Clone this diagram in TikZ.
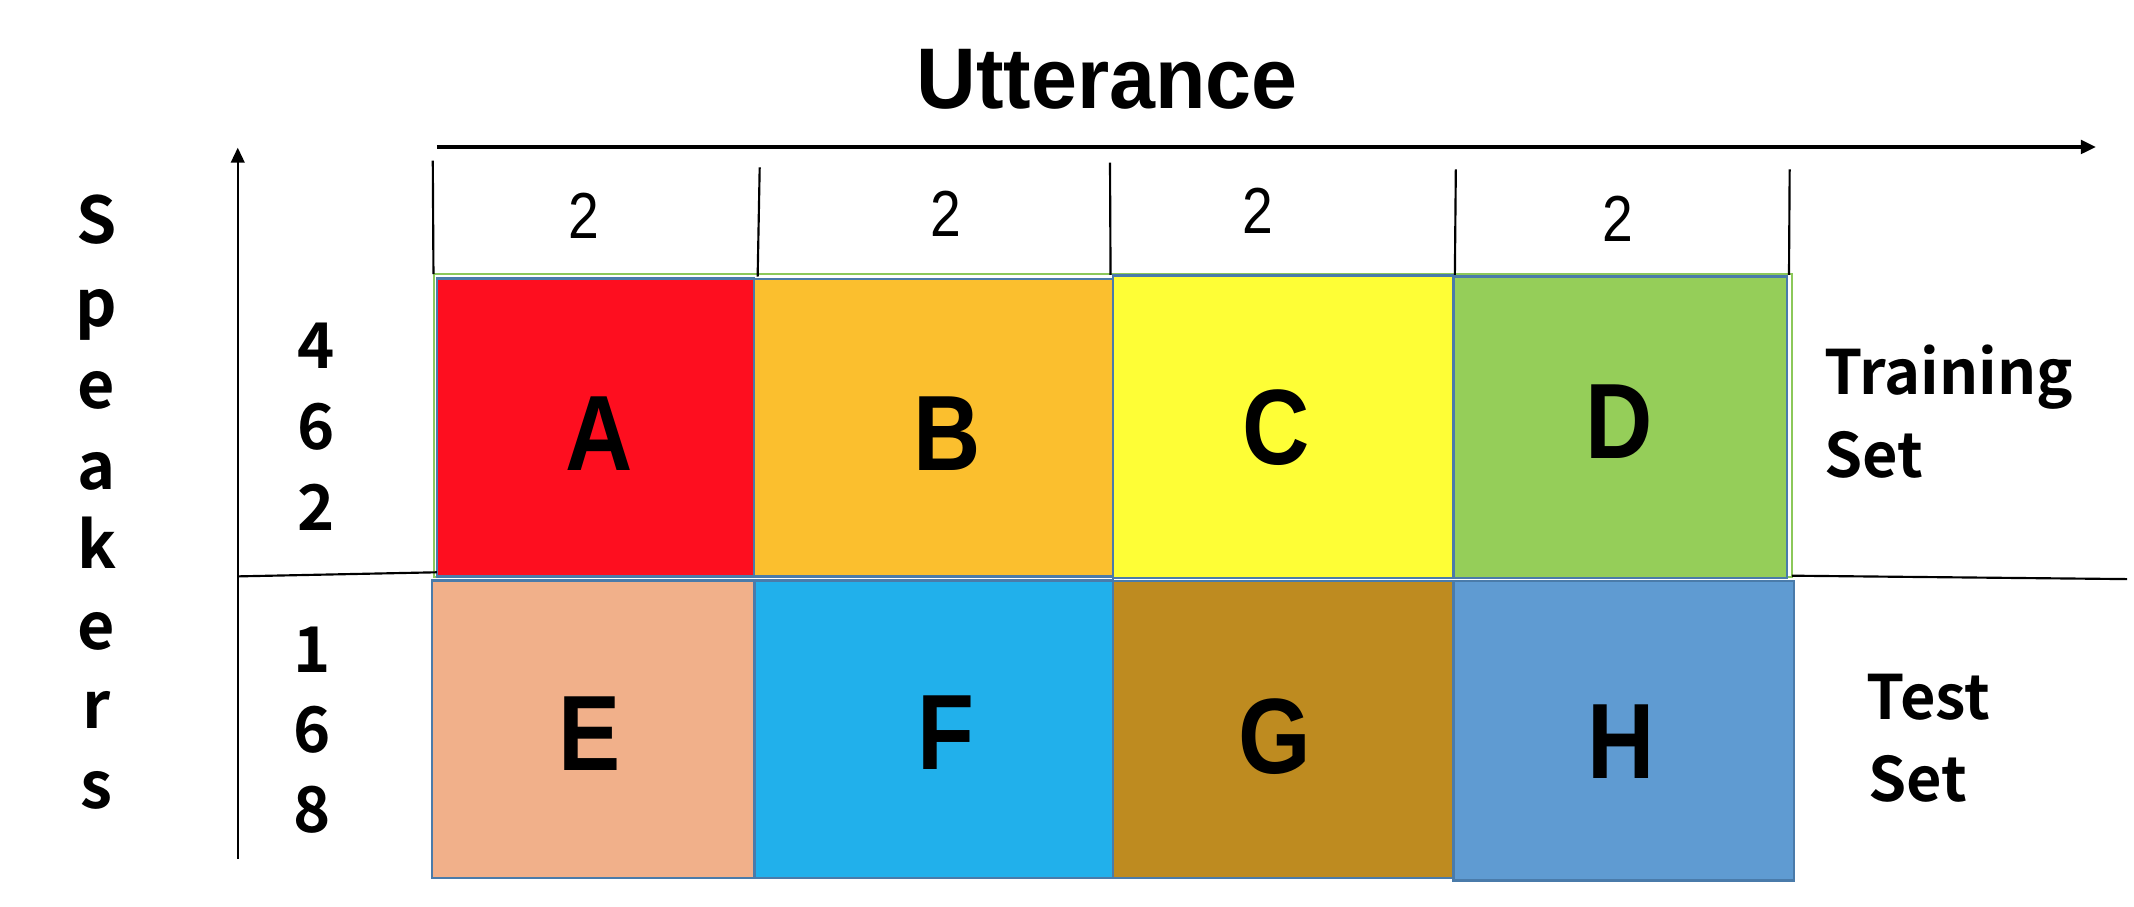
\documentclass[tikz,border=0pt]{standalone}
\usepackage{fontspec}
\setmainfont{Liberation Sans}
\newfontfamily\cjkf{Noto Sans CJK SC}[BoldFont={Noto Sans CJK SC Bold}]
\usetikzlibrary{arrows.meta}
\definecolor{cellborder}{HTML}{4A7BAA}
\definecolor{rowgreen}{HTML}{8CC85A}
\definecolor{cA}{HTML}{FE0E1F}
\definecolor{cB}{HTML}{FBBF2E}
\definecolor{cC}{HTML}{FEFE36}
\definecolor{cD}{HTML}{95CE59}
\definecolor{cE}{HTML}{F1B08A}
\definecolor{cF}{HTML}{21B0EB}
\definecolor{cG}{HTML}{BE8B20}
\definecolor{cH}{HTML}{5F9BD2}
\newcommand\cellletter[1]{\scalebox{0.87}[1]{#1}}
\tikzset{
  cell/.style={draw=cellborder, line width=0.5pt},
  axisline/.style={line width=0.45pt, black},
  xaxisline/.style={line width=0.65pt, black},
  tick/.style={line width=0.45pt, black},
  tip/.style={-{Triangle[length=1.1mm,width=1mm]}},
  letter/.style={font=\bfseries\fontsize{22.4}{26}\selectfont, inner sep=0pt},
  digit/.style={font=\cjkf\bfseries\fontsize{13.2}{16}\selectfont, inner sep=0pt, anchor=base},
  spk/.style={font=\cjkf\bfseries\fontsize{13.5}{16}\selectfont, inner sep=0pt, anchor=base},
  setlabel/.style={font=\cjkf\bfseries\fontsize{12.8}{15}\selectfont, inner sep=0pt, anchor=base west},
  two/.style={font=\fontsize{13.6}{16}\selectfont, inner sep=0pt, anchor=base},
  title/.style={font=\bfseries\fontsize{18}{22}\selectfont, inner sep=0pt, anchor=base}
}
\begin{document}
\begin{tikzpicture}[x=0.1mm,y=-0.1mm]
\useasboundingbox (0,0) rectangle (1568,666);
% title
\node[title] (utt) at (813.5,80) {\scalebox{0.96}[1]{Utterance}};
% axes
\coordinate (xl) at (321,108);
\coordinate (xr) at (1540,108);
\draw[xaxisline,tip] (xl) -- (xr);
\coordinate (yb) at (174.7,631);
\coordinate (yt) at (174.7,108.5);
\draw[axisline,tip] (yb) -- (yt);
% green outline of training row
\draw[rowgreen, line width=0.5pt] (319,201.5) rectangle (1316.5,424);
% cells
\draw[cell, fill=cA] (321,204.5) rectangle (554,423.5);
\draw[cell, fill=cB] (554,205) rectangle (818,423.5);
\draw[cell, fill=cC] (818,202.3) rectangle (1068,424.5);
\draw[cell, fill=cD] (1068,203.3) rectangle (1313,424.5);
\draw[cell, fill=cE] (317.4,426.5) rectangle (554.5,645);
\draw[cell, fill=cF] (554.5,426.5) rectangle (818,645);
\draw[cell, fill=cG] (818,427) rectangle (1068,645);
\draw[cell, fill=cH] (1068,427) rectangle (1318,647);
% cell letters
\node[letter] (A) at (440,318.5) {\cellletter{A}};
\node[letter] (B) at (696,318.5) {\cellletter{B}};
\node[letter] (C) at (938,314) {\cellletter{C}};
\node[letter] (D) at (1190,309.7) {\cellletter{D}};
\node[letter] (E) at (433,539.4) {\cellletter{E}};
\node[letter] (F) at (695,538) {\cellletter{F}};
\node[letter] (G) at (937,541) {\cellletter{G}};
\node[letter] (H) at (1191,544.7) {\cellletter{H}};
% ticks
\coordinate (t1a) at (318,118);   \coordinate (t1b) at (318.5,201.5);
\coordinate (t2a) at (558.2,123); \coordinate (t2b) at (556.7,203.3);
\coordinate (t3a) at (815.6,119.5); \coordinate (t3b) at (816,202);
\coordinate (t4a) at (1069.7,124.4); \coordinate (t4b) at (1069,202);
\coordinate (t5a) at (1315,124.4); \coordinate (t5b) at (1314.5,202);
\foreach \i in {1,...,5} \draw[tick] (t\i a) -- (t\i b);
% column counts
\node[two] (n1) at (429,175) {\scalebox{0.85}[1]{2}};
\node[two] (n2) at (695,174) {\scalebox{0.85}[1]{2}};
\node[two] (n3) at (924,171.4) {\scalebox{0.85}[1]{2}};
\node[two] (n4) at (1189,177.6) {\scalebox{0.85}[1]{2}};
% row separators
\coordinate (sl1) at (175,423.5);
\coordinate (sl2) at (321,420.5);
\draw[axisline] (sl1) -- (sl2);
\coordinate (sr1) at (1316.6,423);
\coordinate (sr2) at (1563,425.5);
\draw[axisline] (sr1) -- (sr2);
% speakers label
\foreach \l/\y [count=\i] in {S/179,p/240,e/300,a/360,k/418,e/477,r/535,s/594}
  \node[spk] (spk\i) at (71,\y) {\l};
% row counts
\foreach \d/\y [count=\i] in {4/271,6/330,2/390}
  \node[digit] (tr\i) at (232,\y) {\d};
\foreach \d/\y [count=\i] in {1/494,6/553,8/612}
  \node[digit] (te\i) at (229,\y) {\d};
% set labels
\node[setlabel] (train1) at (1340,290) {Training};
\node[setlabel] (train2) at (1340,350.5) {Set};
\node[setlabel] (test1) at (1371,529) {Test};
\node[setlabel] (test2) at (1372,589) {Set};
\end{tikzpicture}
\end{document}
